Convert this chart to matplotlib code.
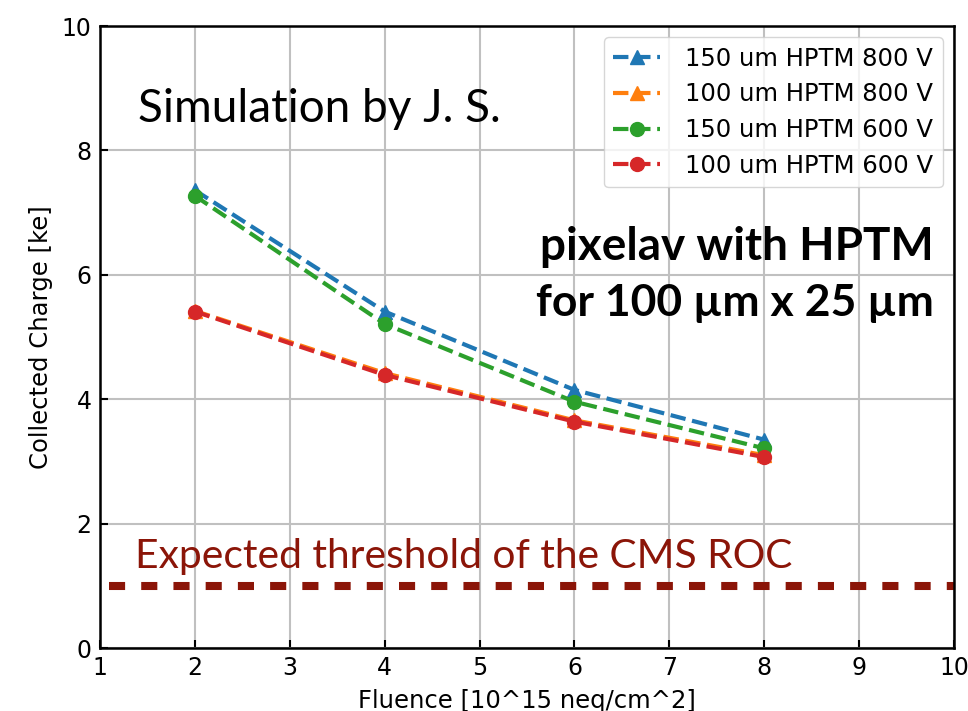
import matplotlib
matplotlib.use("Agg")
import matplotlib.pyplot as plt

fluence = [2, 4, 6, 8]
q_150_800 = [7.36, 5.41, 4.15, 3.35]
q_100_800 = [5.42, 4.42, 3.66, 3.10]
q_150_600 = [7.27, 5.21, 3.96, 3.21]
q_100_600 = [5.41, 4.39, 3.64, 3.07]
labels = ["150 um HPTM 800 V", "100 um HPTM 800 V",
          "150 um HPTM 600 V", "100 um HPTM 600 V"]
threshold = 1.0

fig = plt.figure(figsize=(9.68, 7.11), dpi=100)
ax = fig.add_axes([0.1033, 0.0886, 0.8822, 0.8748])

ax.plot(fluence, q_150_800, '^--', color='tab:blue', lw=3, ms=10, label=labels[0])
ax.plot(fluence, q_100_800, '^--', color='tab:orange', lw=3, ms=10, label=labels[1])
ax.plot(fluence, q_150_600, 'o--', color='tab:green', lw=3, ms=10, label=labels[2])
ax.plot(fluence, q_100_600, 'o--', color='tab:red', lw=3, ms=10, label=labels[3])

dark_red = '#8b1508'
ax.plot([1.1, 10], [threshold, threshold], color=dark_red, lw=5.8,
        dashes=(2, 2), solid_capstyle='butt', dash_capstyle='butt')

ax.set_xlim(1, 10)
ax.set_ylim(0, 10)
ax.set_xticks(range(1, 11))
ax.set_yticks(range(0, 11, 2))
ax.grid(True, color='#c0c0c0', lw=1.5)
ax.tick_params(direction='in', labelsize=17, length=6, width=1.5, pad=6)
for s in ax.spines.values():
    s.set_linewidth(1.8)
ax.set_xlabel("Fluence [10^15 neq/cm^2]", fontsize=17.5, labelpad=6)
ax.set_ylabel("Collected Charge [ke]", fontsize=17.5, labelpad=6)

ax.legend(loc='upper right', fontsize=17.5, handlelength=1.9, borderpad=0.4,
          labelspacing=0.48, handletextpad=1.05, borderaxespad=0.45,
          bbox_to_anchor=(1.0, 1.0))

ax.text(1.4, 8.46, "Simulation by J. S.", fontsize=33, family='Lato', color='black')
ax.text(9.79, 6.24, "pixelav with HPTM", fontsize=33, family='Lato', weight='bold',
        ha='right', color='black')
ax.text(9.79, 5.34, "for 100 µm x 25 µm", fontsize=32, family='Lato', weight='bold',
        ha='right', color='black')
ax.text(1.37, 1.29, "Expected threshold of the CMS ROC", fontsize=29.3, family='Lato',
        color=dark_red)

fig.savefig("out.png", dpi=100)
